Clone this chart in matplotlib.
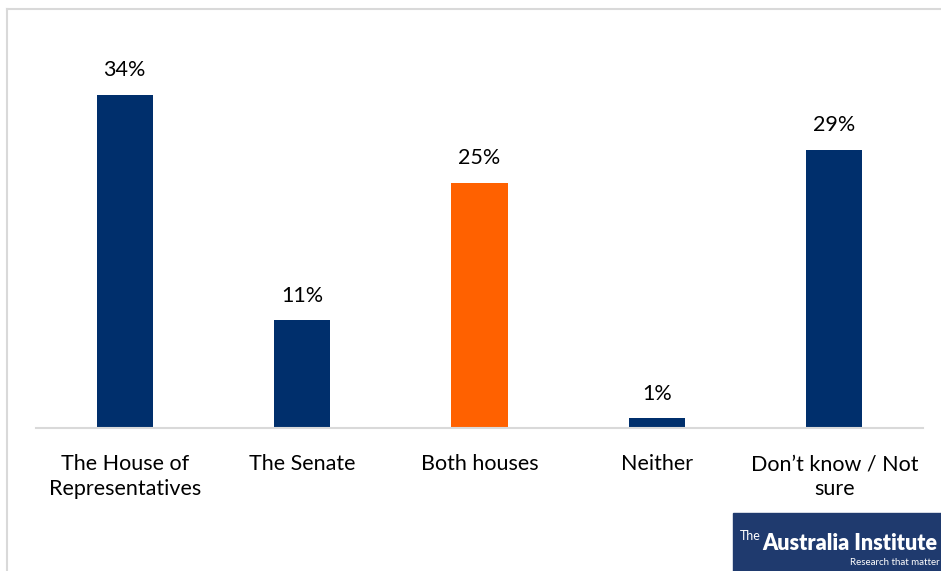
import matplotlib.pyplot as plt
from matplotlib.patches import Rectangle
from matplotlib.lines import Line2D

categories = ["The House of\nRepresentatives", "The Senate", "Both houses", "Neither", "Don\u2019t know / Not\nsure"]
values = [34, 11, 25, 1, 28.4]
labels = ["34%", "11%", "25%", "1%", "29%"]
colors = ["#002F6C", "#002F6C", "#FF6100", "#002F6C", "#002F6C"]

plt.rcParams['font.family'] = ['Lato', 'DejaVu Sans']

W, H = 941, 571
fig = plt.figure(figsize=(W / 100, H / 100), dpi=100)

# frame (left and top only visible)
fig.add_artist(Line2D([7 / W, 7 / W], [0, 1 - 9 / H], color="#d9d9d9", lw=1.5))
fig.add_artist(Line2D([7 / W, 1], [1 - 9 / H, 1 - 9 / H], color="#d9d9d9", lw=1.5))

ax = fig.add_axes([36 / W, (H - 428) / H, 887 / W, (428 - 40) / H])
x = range(len(categories))
ax.bar(x, values, width=0.316, color=colors)
for i, v in enumerate(values):
    ax.text(i, v + 1.5, labels[i], ha="center", va="bottom", fontsize=15.5)

ax.set_xlim(-0.5, 4.5)
ax.set_ylim(0, 39.6)
ax.set_xticks(list(x))
ax.set_xticklabels(categories, fontsize=15.5, linespacing=1.3, va="top")
ax.tick_params(axis="x", length=0, pad=19)
ax.set_yticks([])
for s in ["top", "right", "left"]:
    ax.spines[s].set_visible(False)
ax.spines["bottom"].set_color("#d9d9d9")
ax.spines["bottom"].set_linewidth(1.5)

# logo
fig.add_artist(Rectangle((733 / W, 0), 1 - 733 / W, (571 - 513) / H,
                         transform=fig.transFigure, color="#1F3A6E", zorder=5))
fig.text(740 / W, 1 - 540 / H, "The", color="white", fontsize=9,
         va="baseline", zorder=6)
fig.text(762 / W, 1 - 550 / H, "Australia Institute", color="white", fontsize=15.5,
         fontweight="heavy", va="baseline", zorder=6)
fig.text(940 / W, 1 - 565 / H, "Research that matter", color="white", fontsize=7,
         ha="right", va="baseline", zorder=6)

fig.savefig("out.png", dpi=100)
